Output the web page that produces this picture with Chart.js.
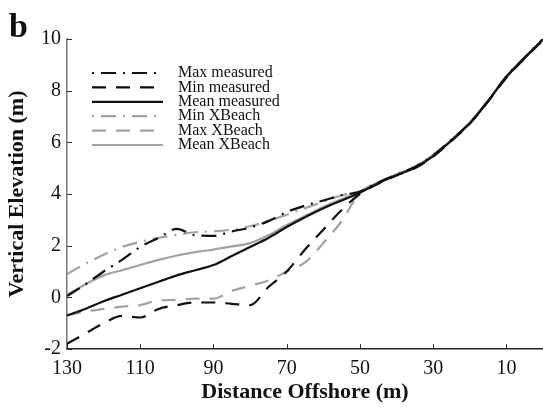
<!DOCTYPE html>
<html lang="en">
<head>
    <meta charset="UTF-8">
    <title>Profile comparison</title>
    <script src="https://cdn.jsdelivr.net/npm/chart.js"></script>
    <style>
        html, body { margin: 0; padding: 0; background: #fff; }
        .wrap { width: 543px; height: 407px; position: relative; }
    </style>
</head>
<body>
    <div class="wrap"><canvas id="profileChart"></canvas></div>
    <script>
        // distance offshore (m)
        const distances = [130, 125, 120, 115, 110, 105, 100, 95, 90, 85, 80, 75, 70, 65, 60, 55, 50, 45, 40, 35, 30, 25, 20, 15, 10, 5, 0];

        const maxMeasured  = [0.05, 0.5, 1.0, 1.45, 1.95, 2.3, 2.65, 2.4, 2.38, 2.55, 2.7, 2.95, 3.3, 3.55, 3.75, 3.95, 4.1, 4.45, 4.75, 5.05, 5.5, 6.1, 6.75, 7.6, 8.55, 9.28, 10.0];
        const minMeasured  = [-1.8, -1.4, -1.0, -0.72, -0.78, -0.45, -0.3, -0.2, -0.2, -0.25, -0.3, 0.4, 1.0, 1.85, 2.62, 3.38, 4.0, 4.4, 4.72, 5.0, 5.45, 6.05, 6.72, 7.58, 8.5, 9.25, 9.95];
        const meanMeasured = [-0.7, -0.45, -0.15, 0.1, 0.35, 0.6, 0.85, 1.05, 1.25, 1.6, 1.95, 2.3, 2.72, 3.1, 3.45, 3.75, 4.05, 4.42, 4.73, 5.02, 5.47, 6.07, 6.74, 7.6, 8.53, 9.27, 9.98];
        const minXBeach    = [0.9, 1.3, 1.65, 1.95, 2.15, 2.3, 2.42, 2.52, 2.55, 2.62, 2.75, 2.95, 3.2, 3.45, 3.7, 3.95, 4.1, 4.45, 4.75, 5.05, 5.5, 6.1, 6.75, 7.6, 8.55, 9.28, 10.0];
        const maxXBeach    = [-0.7, -0.55, -0.45, -0.36, -0.3, -0.12, -0.1, -0.05, -0.05, 0.25, 0.45, 0.65, 1.0, 1.35, 2.1, 2.95, 4.05, 4.45, 4.75, 5.05, 5.5, 6.1, 6.75, 7.6, 8.55, 9.28, 10.0];
        const meanXBeach   = [0.1, 0.5, 0.85, 1.05, 1.25, 1.45, 1.62, 1.75, 1.85, 1.97, 2.1, 2.4, 2.8, 3.15, 3.5, 3.8, 4.08, 4.45, 4.75, 5.05, 5.5, 6.1, 6.75, 7.6, 8.55, 9.28, 10.0];

        const xTicks = [130, 110, 90, 70, 50, 30, 10];
        const yTicks = [-2, 0, 2, 4, 6, 8, 10];

        const BLACK = '#111111';
        const GREY = '#a2a2a2';
        const DASH = [14, 10];
        const DASHDOT = [15, 7, 2, 7];

        Chart.defaults.font.family = "'Liberation Serif', 'Times New Roman', serif";
        Chart.defaults.color = '#111';

        function series(label, values, color, dash) {
            return {
                label: label,
                data: distances.map((d, i) => ({ x: d, y: values[i] })),
                borderColor: color,
                borderWidth: 2.2,
                borderDash: dash,
                pointRadius: 0,
                fill: false,
                cubicInterpolationMode: 'monotone'
            };
        }

        // inward tick marks, in-plot legend and the panel letter
        const decor = {
            id: 'decor',
            afterDraw(chart) {
                const ctx = chart.ctx;
                const xs = chart.scales.x, ys = chart.scales.y;
                const area = chart.chartArea;
                ctx.save();
                ctx.strokeStyle = '#333';
                ctx.lineWidth = 1;
                ctx.setLineDash([]);
                yTicks.forEach(v => {
                    const py = Math.round(ys.getPixelForValue(v)) + 0.5;
                    ctx.beginPath(); ctx.moveTo(area.left, py); ctx.lineTo(area.left + 5, py); ctx.stroke();
                });
                xTicks.forEach(v => {
                    const px = Math.round(xs.getPixelForValue(v)) + 0.5;
                    ctx.beginPath(); ctx.moveTo(px, area.bottom); ctx.lineTo(px, area.bottom - 5); ctx.stroke();
                });

                // legend
                ctx.font = "16px 'Liberation Serif'";
                ctx.textBaseline = 'middle';
                ctx.fillStyle = '#111';
                chart.data.datasets.forEach((ds, i) => {
                    const y = 73 + i * 14.4;
                    ctx.strokeStyle = ds.borderColor;
                    ctx.lineWidth = ds.borderWidth;
                    ctx.setLineDash(ds.borderDash || []);
                    ctx.lineDashOffset = ds.borderDash && ds.borderDash.length === 4 ? 22 : 0;
                    ctx.beginPath(); ctx.moveTo(92, y); ctx.lineTo(163, y); ctx.stroke();
                    ctx.fillText(ds.label, 178, y);
                });
                ctx.setLineDash([]);
                ctx.lineDashOffset = 0;

                ctx.font = "bold 34px 'Liberation Serif'";
                ctx.textBaseline = 'alphabetic';
                ctx.fillText('b', 9, 37);
                ctx.restore();
            }
        };

        new Chart(document.getElementById('profileChart'), {
            type: 'line',
            data: {
                datasets: [
                    series('Max measured', maxMeasured, BLACK, DASHDOT),
                    series('Min measured', minMeasured, BLACK, DASH),
                    series('Mean measured', meanMeasured, BLACK, []),
                    series('Min XBeach', minXBeach, GREY, DASHDOT),
                    series('Max XBeach', maxXBeach, GREY, DASH),
                    series('Mean XBeach', meanXBeach, GREY, [])
                ]
            },
            options: {
                responsive: true,
                maintainAspectRatio: false,
                animation: false,
                layout: { padding: { top: 39, right: 0, bottom: 0, left: 0 } },
                plugins: { legend: { display: false }, tooltip: { enabled: false } },
                scales: {
                    x: {
                        type: 'linear',
                        reverse: true,
                        min: 0,
                        max: 130,
                        afterBuildTicks: s => { s.ticks = xTicks.map(v => ({ value: v })); },
                        afterFit: s => { s.height = 58; },
                        grid: { display: false, drawTicks: false },
                        border: { display: true, color: '#222', width: 1.5 },
                        ticks: { font: { size: 20 }, padding: 8, maxRotation: 0, autoSkip: false },
                        title: {
                            display: true,
                            text: 'Distance Offshore (m)',
                            font: { size: 22, weight: 'bold' },
                            padding: { top: 1, bottom: 1 }
                        }
                    },
                    y: {
                        min: -2,
                        max: 10,
                        afterBuildTicks: s => { s.ticks = yTicks.map(v => ({ value: v })); },
                        afterFit: s => { s.width = 67; },
                        grid: { display: false, drawTicks: false },
                        border: { display: true, color: '#777', width: 1.5 },
                        ticks: { font: { size: 20 }, padding: 6 },
                        title: {
                            display: true,
                            text: 'Vertical Elevation (m)',
                            font: { size: 22, weight: 'bold' },
                            padding: { top: 4, bottom: 0 }
                        }
                    }
                }
            },
            plugins: [decor]
        });
    </script>
</body>
</html>
